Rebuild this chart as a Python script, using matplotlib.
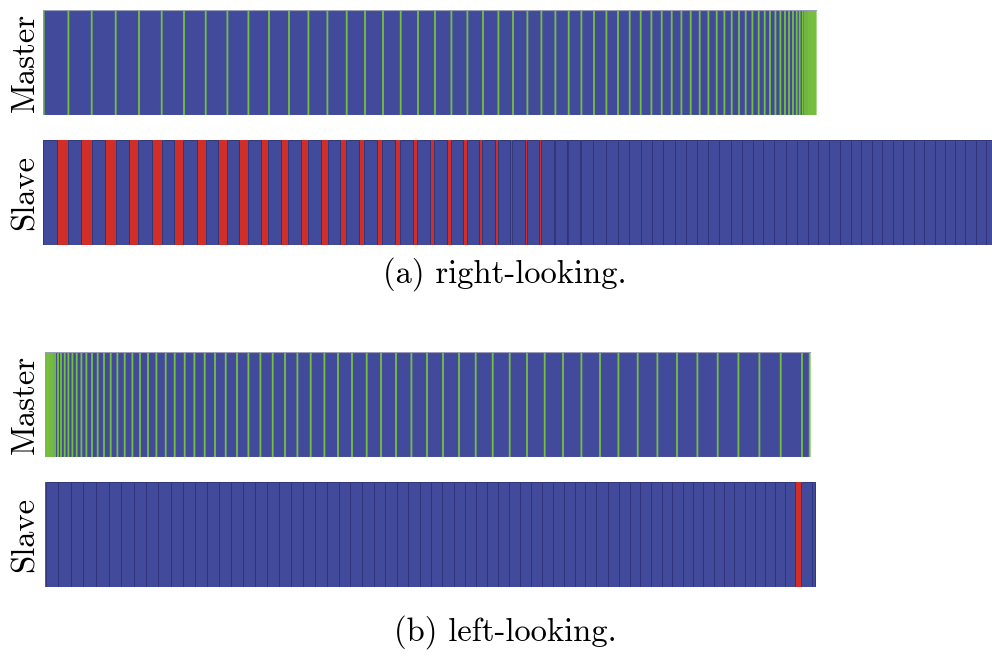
import numpy as np
import matplotlib.pyplot as plt

## Data (time units)
# (a) right-looking
master_a_edges = [0, 24.7, 48, 72, 95.3, 118, 140.3, 162, 183.7, 204.7, 225.3, 245.3, 264.7, 283.7,
                  303, 321.3, 339.3, 357, 374.3, 391.3, 407.7, 423.7, 439.3, 454.7, 469.3, 483.7,
                  497.7, 511.7, 525, 537.7, 550.3, 562.7, 574.3, 586, 597, 607.7, 618, 628, 637.7,
                  647, 656, 664.7, 673, 680.7, 688, 695.3, 702, 708.7, 715, 721, 726.3, 731.7,
                  736.7, 741.3, 745.3, 749.3, 753, 756, 759, 761.3, 763.3, 765, 766.3, 767.4,
                  768.4, 769.3, 770.1, 770.8, 771.4, 772]
slave_a_start = [0, 24.7, 48.7, 72.7, 95.3, 118.7, 140.3, 162.7, 183.7, 204.7, 225.3, 245.3, 265.3,
                 285.3, 303, 321.3, 339.3, 357, 374.3, 391.3, 407.7, 423.7, 439.3, 454.7, 469.3,
                 483.7, 497.7, 512, 525.3, 537.7, 550.3, 562.7, 574.7, 586.3, 597.7, 609.3, 620.3,
                 632, 643, 654.3, 665.3, 676.3, 687.7, 698.7, 709.7, 720.3, 731.3, 742.7, 753.7,
                 764.7, 775.3, 786.3, 797, 807.7, 818, 828.7, 839.3, 849.7, 860.3, 871, 881.3,
                 891.7, 902, 912, 922.3, 932.7, 943]
slave_a_end = [13.7, 38, 62, 86, 108.7, 131, 153.7, 175.3, 196.3, 217.7, 237.7, 257.7, 277.7, 297,
               316, 334.3, 352.3, 370, 387, 403.7, 420.3, 436.3, 451.7, 467, 482, 496.3, 510.7,
               524, 537, 550.3, 562.7, 574.7, 586.3, 597.7, 609.3, 620.3, 632, 643, 654.3, 665.3,
               676.3, 687.7, 698.7, 709.7, 720.3, 731.3, 742.7, 753.7, 764.7, 775.3, 786.3, 797,
               807.7, 818, 828.7, 839.3, 849.7, 860.3, 871, 881.3, 891.7, 902, 912, 922.3, 932.7,
               943, 953.3]

# (b) left-looking
master_b_edges = [0, 0.7, 1.4, 2.1, 2.8, 3.5, 4.3, 5.7, 7.3, 9.3, 12.3, 15.3, 19, 22.7, 26.7, 31,
                  35.7, 40.7, 46.3, 52, 58.3, 65, 71.7, 79, 86.7, 94.3, 102.3, 110.7, 120, 129,
                  139, 148.7, 159, 169.3, 180, 191.3, 202.7, 214.7, 227, 239.3, 251.7, 265, 278.7,
                  292.3, 306.3, 321, 335.3, 350.3, 365.7, 381.3, 397.3, 413.3, 430, 447, 464,
                  481.3, 499, 517.3, 535.7, 554.3, 572.7, 592, 611.7, 631.3, 651.7, 672, 692.7,
                  713.7, 735, 756.3, 764]
slave_b_start = [0.8, 13.3, 26, 38.3, 51, 63.7, 76.3, 88.7, 101, 113.3, 125.7, 138, 150.3, 162.3,
                 174.3, 186.3, 198.3, 210.3, 222.3, 234.3, 246.3, 258.3, 270.3, 282, 293.7, 305.3,
                 317, 328.6, 340.2, 351.7, 363.2, 374.6, 386, 397.3, 408.6, 419.8, 431, 442.1,
                 453.2, 464.2, 475.2, 486.2, 497.1, 508, 518.9, 529.7, 540.5, 551.3, 562.7, 574,
                 584.7, 595.3, 606, 616.7, 627, 637.7, 648, 658.3, 668.7, 679, 689.3, 699.7,
                 709.7, 719.7, 729.7, 740, 756, 766.7]
slave_b_end = [13.3, 26, 38.3, 51, 63.7, 76.3, 88.7, 101, 113.3, 125.7, 138, 150.3, 162.3, 174.3,
               186.3, 198.3, 210.3, 222.3, 234.3, 246.3, 258.3, 270.3, 282, 293.7, 305.3, 317,
               328.6, 340.2, 351.7, 363.2, 374.6, 386, 397.3, 408.6, 419.8, 431, 442.1, 453.2,
               464.2, 475.2, 486.2, 497.1, 508, 518.9, 529.7, 540.5, 551.3, 562.7, 574, 584.7,
               595.3, 606, 616.7, 627, 637.7, 648, 658.3, 668.7, 679, 689.3, 699.7, 709.7, 719.7,
               729.7, 740, 750, 766.7, 770]

captions = ['(a) right-looking.', '(b) left-looking.']

BLUE = '#424a9c'
EDGE = '#30347a'
GREEN = '#76bf3e'
RED = '#d22e28'
SPAN = 949


def draw_master(ax, edges):
    edges = np.array(edges)
    ax.barh(0, np.diff(edges), left=edges[:-1], height=1, color=BLUE,
            edgecolor=BLUE, linewidth=0.6)
    # short panel tasks drawn as thin green strokes
    ax.vlines(edges + 0.7, -0.5, 0.5, color=GREEN, linewidth=1.3, snap=False)
    ax.axhline(0.5, color='#9a9cb8', linewidth=0.8, xmin=0, xmax=(edges[-1] + 1.4) / SPAN)
    ax.axhline(-0.5, color='#9a9cb8', linewidth=0.8, xmin=0, xmax=(edges[-1] + 1.4) / SPAN)


def draw_slave(ax, start, end):
    start = np.array(start)
    end = np.array(end)
    # idle time = gaps between consecutive work blocks
    prev_end = np.concatenate([[0], end[:-1]])
    gap = start - prev_end
    idle = gap > 0.05
    ax.barh(0, gap[idle], left=prev_end[idle], height=1, color=RED, linewidth=0)
    ax.barh(0, end - start, left=start, height=1, color=BLUE, edgecolor=EDGE, linewidth=0.7)


def setup(ax):
    ax.set_xlim(0, SPAN)
    ax.set_ylim(-0.5, 0.5)
    ax.axis('off')


fig = plt.figure(figsize=(9.92, 6.58), dpi=100)
W, H = 992, 658


def add_row(x0, ytop):
    return fig.add_axes([x0 / W, 1 - (ytop + 105) / H, SPAN / W, 105 / H])


ax = add_row(43, 10)
draw_master(ax, master_a_edges)
setup(ax)
ax = add_row(43, 140)
draw_slave(ax, slave_a_start, slave_a_end)
setup(ax)
ax = add_row(45, 352)
draw_master(ax, master_b_edges)
setup(ax)
ax = add_row(45, 482)
draw_slave(ax, slave_b_start, slave_b_end)
setup(ax)

font = dict(family='cmr10', size=23.5)
for yc, name in [(62, 'Master'), (192, 'Slave'), (404, 'Master'), (534, 'Slave')]:
    fig.text(25 / W, 1 - yc / H, name, rotation=90, ha='center', va='center', **font)
fig.text(505 / W, 1 - 274 / H, captions[0], ha='center', va='center', **font)
fig.text(505 / W, 1 - 632 / H, captions[1], ha='center', va='center', **font)

fig.savefig('out.png', dpi=100)
